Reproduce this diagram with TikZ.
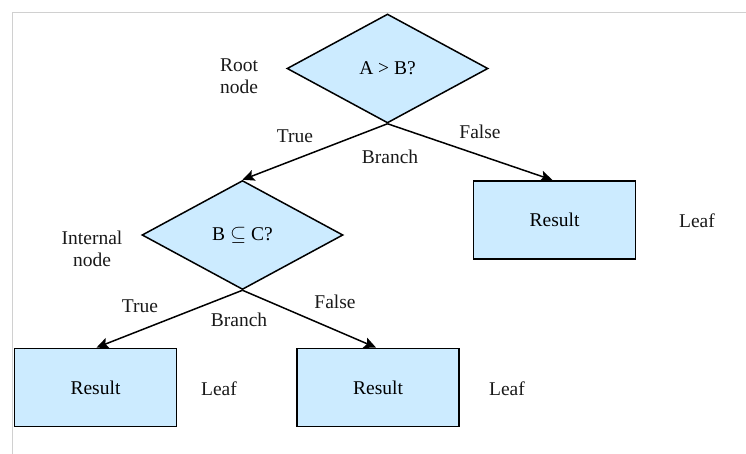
\documentclass[tikz,border=0pt]{standalone}
\usepackage{fontspec}
\setmainfont{Liberation Serif}
\usetikzlibrary{shapes.geometric,arrows.meta}
\definecolor{boxfill}{RGB}{204,235,255}
\definecolor{framegray}{RGB}{208,208,208}
\begin{document}
\begin{tikzpicture}[x=1pt,y=-1pt,
  every node/.style={font=\fontsize{19.5}{22}\selectfont, inner sep=0pt},
  decision/.style={diamond, draw, fill=boxfill, line width=1.5pt,
    minimum width=201pt, minimum height=109pt},
  leafbox/.style={rectangle, draw, fill=boxfill, line width=1.9pt,
    minimum width=162pt, minimum height=78pt},
  edge/.style={draw, line width=1.5pt, -{Stealth[length=12pt,width=11pt,inset=2.5pt]}},
  note/.style={align=center, text=black!90}]
\useasboundingbox (0,0) rectangle (746,453);
% outer frame
\draw[framegray, line width=1.5pt] (12.5,460) -- (12.5,12.5) -- (760,12.5);

% decisions
\node[decision] (root) at (387.5,68.5) {A > B?};
\node[decision] (inner) at (242.5,235) {B $\subseteq$ C?};

% leaves
\node[leafbox] (r1) at (554.5,220) {Result};
\node[leafbox] (l1) at (95.5,387.5) {Result};
\node[leafbox] (l2) at (378,387.5) {Result};

% connectors
\draw[edge] (root.south) -- (inner.north);
\draw[edge] (root.south) -- ([xshift=-2pt]r1.north);
\draw[edge] (inner.south) -- ([xshift=1pt]l1.north);
\draw[edge] (inner.south) -- ([xshift=-2pt]l2.north);

% annotations
\node[note] (rootlbl) at (239,76) {Root\\node};
\node[note] (innerlbl) at (92,249) {Internal\\node};
\node[note] (t1) at (295,136) {True};
\node[note] (f1) at (480,132) {False};
\node[note] (b1) at (390,157) {Branch};
\node[note] (t2) at (140,306) {True};
\node[note] (f2) at (335,302) {False};
\node[note] (b2) at (239,320) {Branch};
\node[note] (leaf1) at (697,221) {Leaf};
\node[note] (leaf2) at (219,389) {Leaf};
\node[note] (leaf3) at (507,389) {Leaf};
\end{tikzpicture}
\end{document}
